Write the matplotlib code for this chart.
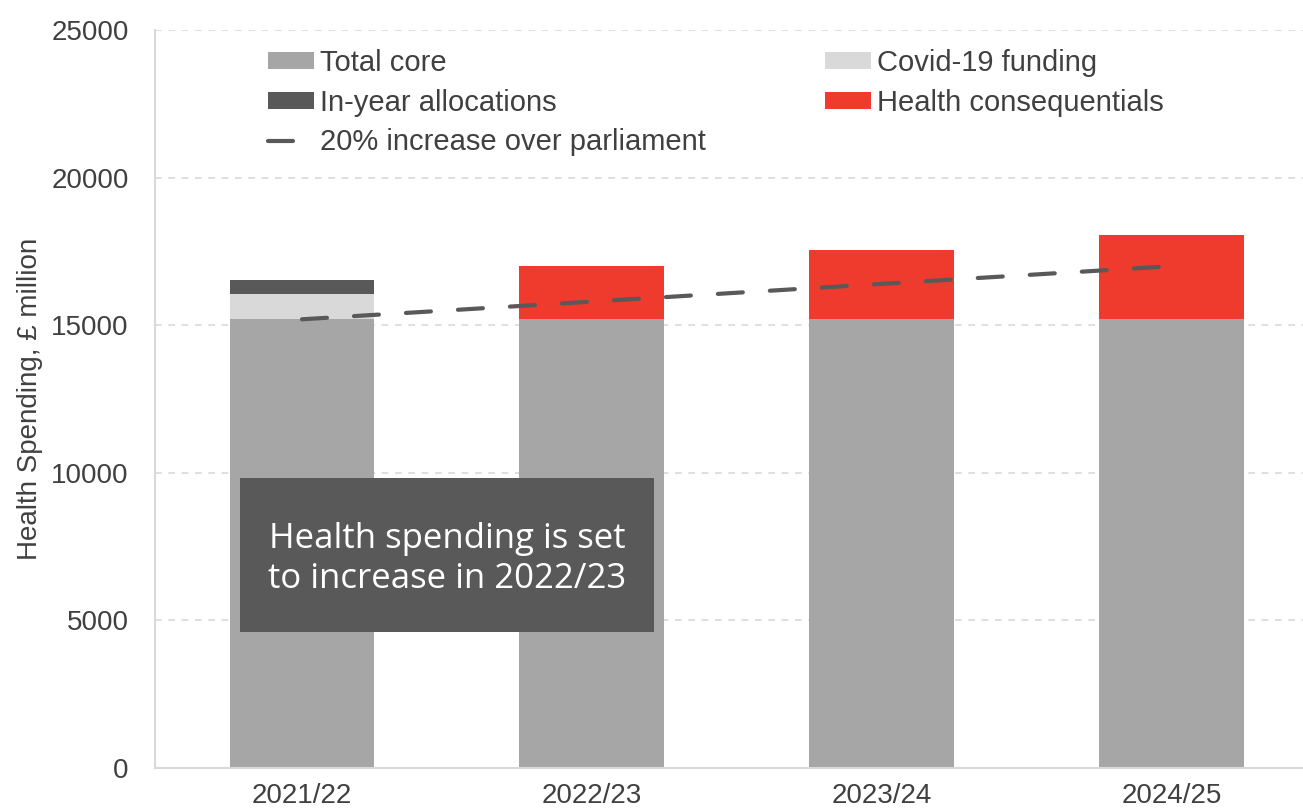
import matplotlib
matplotlib.use("Agg")
import matplotlib.pyplot as plt
from matplotlib.patches import Rectangle
import numpy as np

years = ["2021/22", "2022/23", "2023/24", "2024/25"]
total_core = [15200, 15200, 15200, 15200]
covid_funding = [850, 0, 0, 0]
in_year = [480, 0, 0, 0]
consequentials = [0, 1800, 2350, 2850]
target_line = [15200, 15800, 16400, 17000]

plt.rcParams["font.family"] = ["Liberation Sans", "DejaVu Sans"]
text_col = "#404040"

fig = plt.figure(figsize=(13.03, 8.10), dpi=100)
ax = fig.add_axes([155 / 1303, 42 / 810, 1148 / 1303, 738 / 810])

x = np.arange(len(years))
w = 0.5
b1 = ax.bar(x, total_core, w, color="#A6A6A6", label="Total core", zorder=2)
bottom = np.array(total_core)
b2 = ax.bar(x, covid_funding, w, bottom=bottom, color="#D9D9D9",
            label="Covid-19 funding", zorder=2)
bottom = bottom + np.array(covid_funding)
b3 = ax.bar(x, in_year, w, bottom=bottom, color="#595959",
            label="In-year allocations", zorder=2)
b4 = ax.bar(x, consequentials, w, bottom=np.array(total_core), color="#EE3B2D",
            label="Health consequentials", zorder=2)
ln, = ax.plot(x, target_line, color="#595959", lw=3, dashes=(6, 6.5),
              dash_capstyle="round", label="20% increase over parliament", zorder=3)

ax.set_xlim(-0.507, 3.453)
ax.set_ylim(0, 25000)
ax.set_yticks(range(0, 25001, 5000))
ax.set_xticks(x)
ax.set_xticklabels(years)
ax.tick_params(axis="both", length=0, labelsize=20, colors=text_col)
ax.tick_params(axis="x", pad=11)
ax.tick_params(axis="y", pad=19)
ax.yaxis.grid(True, color="#D9D9D9", linestyle=(0, (4, 4)), lw=1.2, zorder=0)
ax.set_axisbelow(True)
for s in ["top", "right"]:
    ax.spines[s].set_visible(False)
for s in ["left", "bottom"]:
    ax.spines[s].set_color("#D9D9D9")
    ax.spines[s].set_linewidth(1.5)

ax.set_ylabel("Health Spending, £ million", fontsize=20, color=text_col)
ax.yaxis.set_label_coords(-0.0975, 0.5)

ax.legend([b1, b3, ln, b2, b4],
          ["Total core", "In-year allocations", "20% increase over parliament",
           "Covid-19 funding", "Health consequentials"],
          ncol=2, loc="upper left", bbox_to_anchor=(0.0854, 0.994),
          frameon=False, fontsize=21, labelcolor=text_col, borderpad=0,
          handlelength=1.58, handleheight=0.5, handletextpad=0.2,
          columnspacing=4.1, labelspacing=0.4)

ax.add_patch(Rectangle((0.074, 0.1843), 0.3606, 0.2087, transform=ax.transAxes,
                       facecolor="#595959", edgecolor="none", zorder=5))
ax.text(0.2544, 0.283, "Health spending is set\nto increase in 2022/23",
        transform=ax.transAxes, ha="center", va="center", color="white",
        fontsize=25, family=["Open Sans", "DejaVu Sans"], linespacing=1.25, zorder=6)

fig.savefig("out.png", dpi=100)
